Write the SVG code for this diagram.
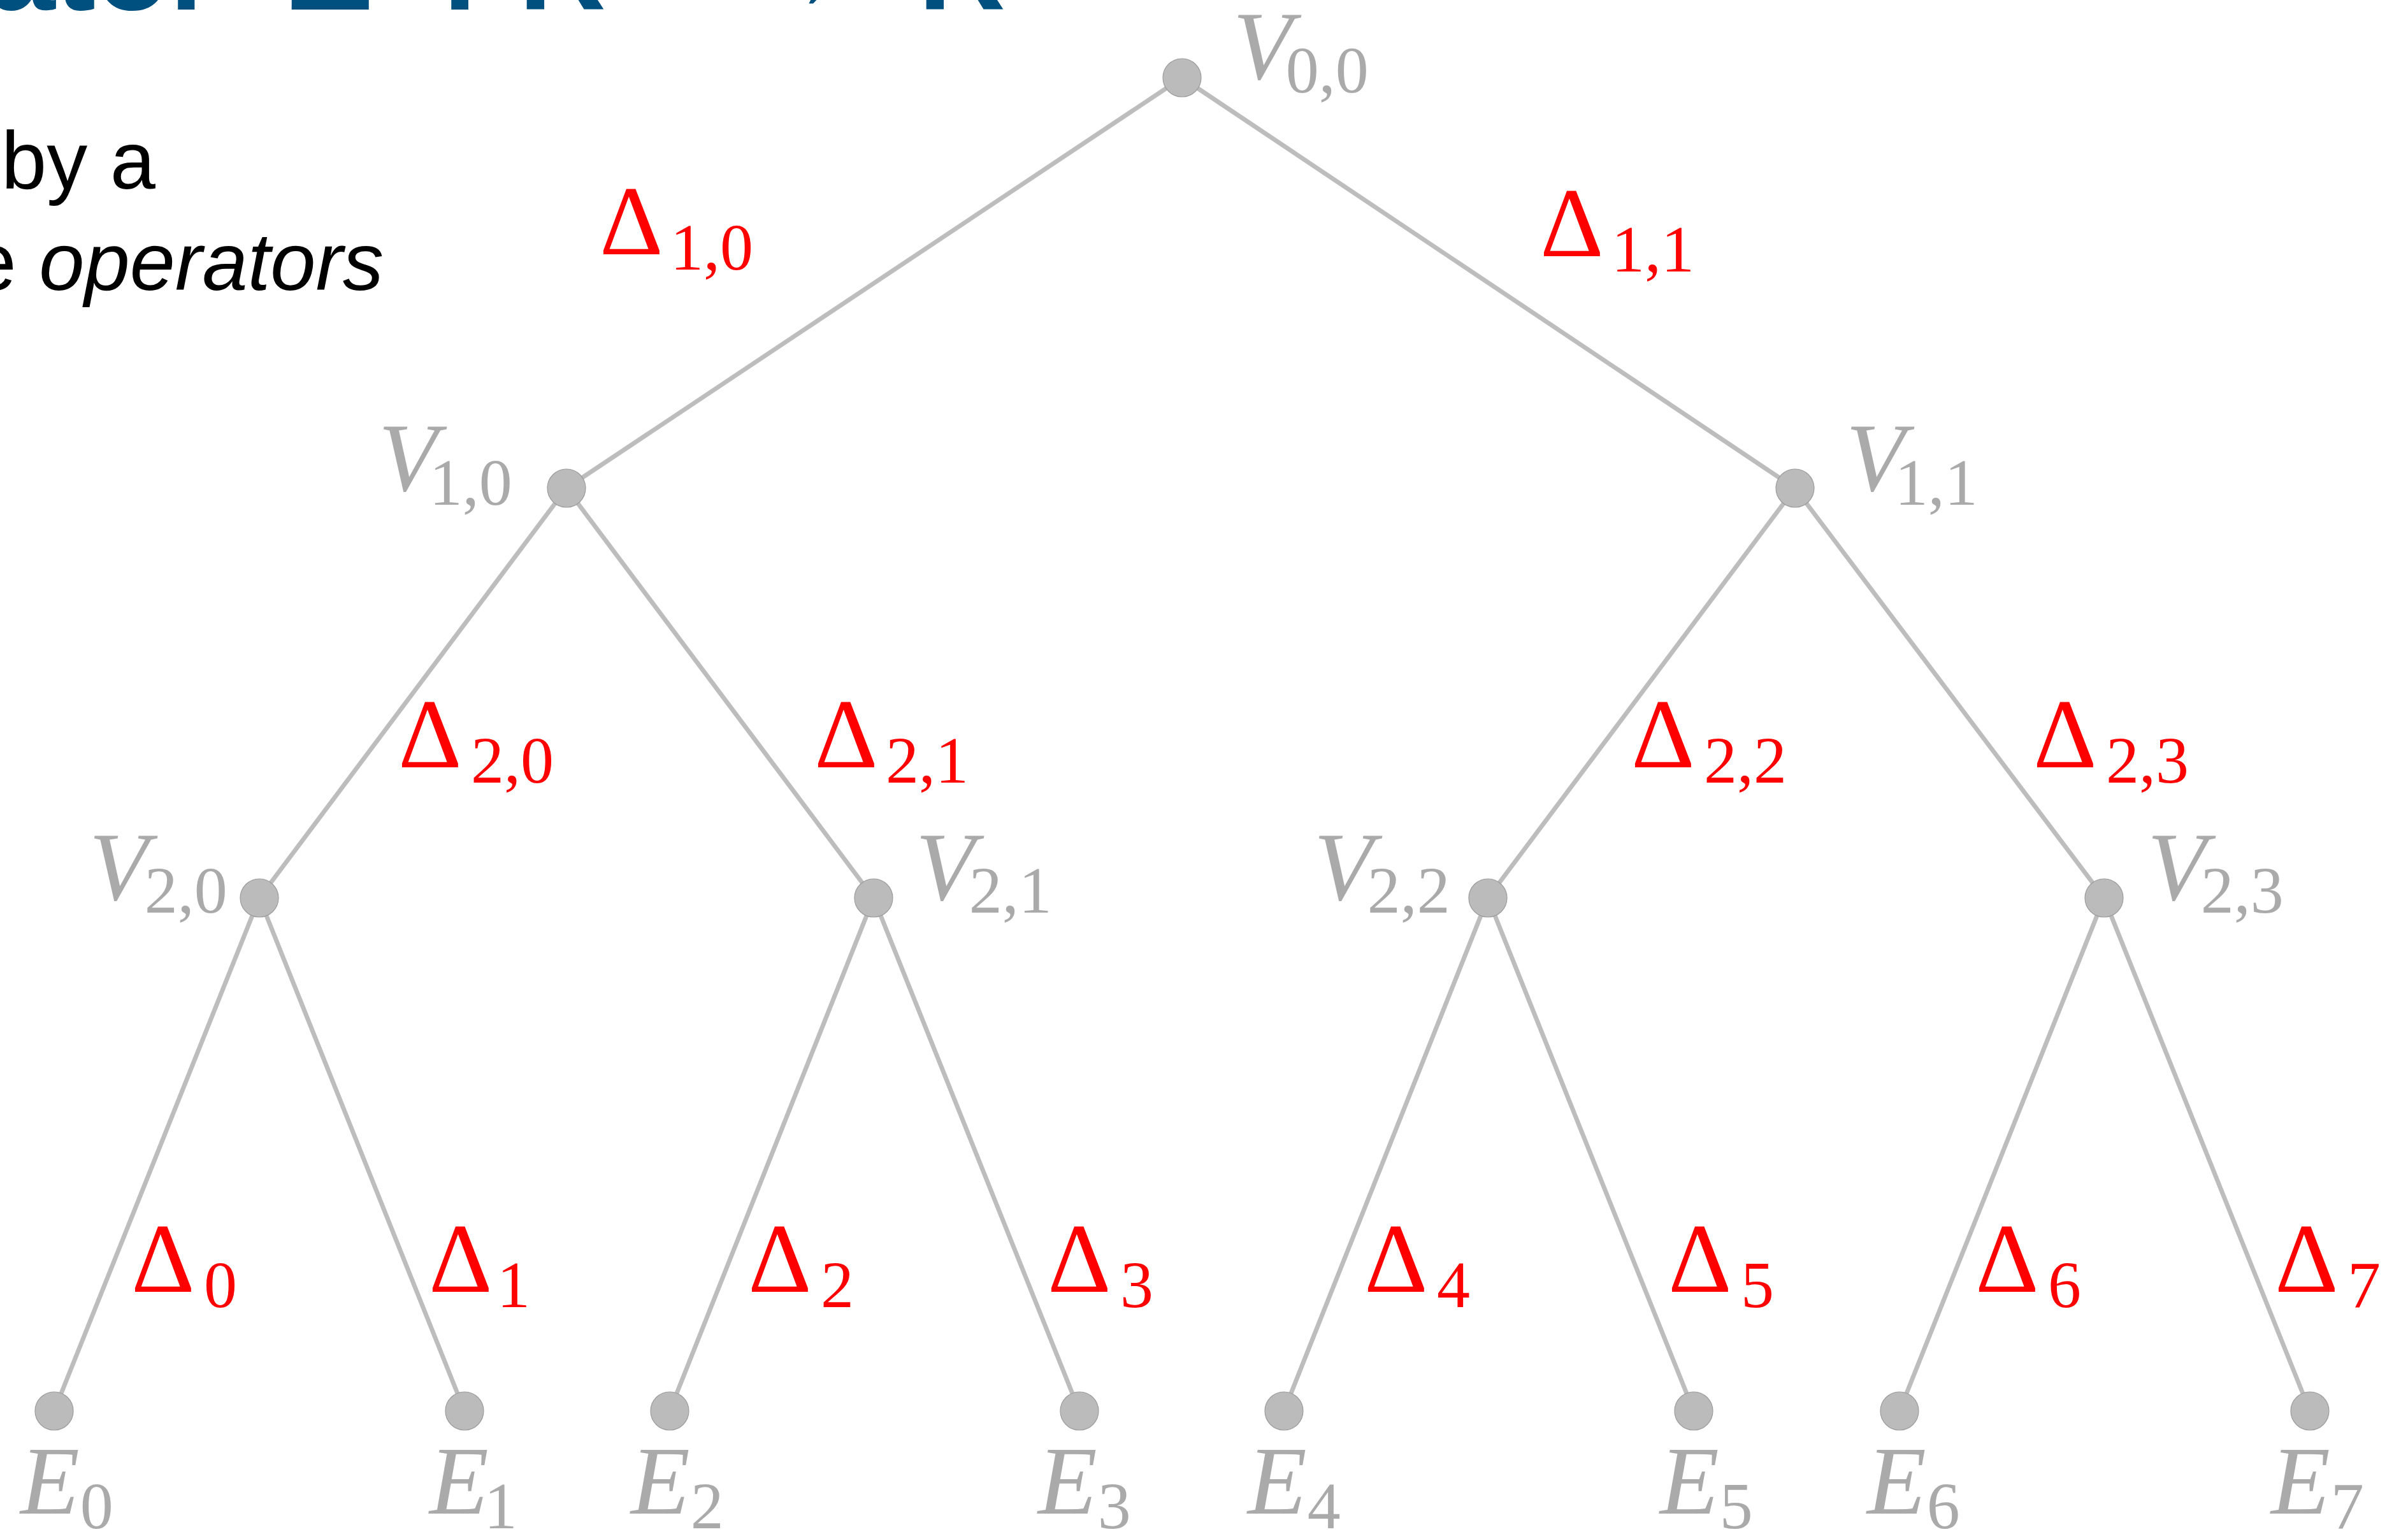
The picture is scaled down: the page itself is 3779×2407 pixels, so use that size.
<svg xmlns="http://www.w3.org/2000/svg" width="3779" height="2407" viewBox="0 0 3779 2407">
<style>
.edge{stroke:#bdbdbd;stroke-width:7;fill:none;stroke-linecap:round}
.node{fill:#bbbbbb;stroke:#9c9c9c;stroke-width:1.2}
.lbl{fill:#aaaaaa;font-family:"Liberation Serif","DejaVu Serif",serif;font-style:italic;font-size:152px}
.sub{font-style:normal;font-size:104px}
.dl{fill:#ff0000;font-family:"Liberation Serif","DejaVu Serif",serif;font-size:155px}
.ds{fill:#ff0000;font-family:"Liberation Serif","DejaVu Serif",serif;font-size:104px}
.title{fill:#00507f;font-family:"Liberation Sans",Arial,sans-serif;font-weight:bold;font-size:190px}
.body{fill:#000000;font-family:"Liberation Sans",Arial,sans-serif;font-size:128px}
</style>
<rect width="3779" height="2407" fill="#ffffff"/>
<g id="title">
<text class="title" x="340" y="15" text-anchor="end">Operator</text>
<text class="title" x="450" y="15">Δ</text>
<text class="title" x="690" y="15">:</text>
<text class="title" x="814" y="15">R</text>
<text class="title" x="1150" y="15">→</text>
<text class="title" x="1441" y="15">R</text>
</g>
<g id="body">
<text class="body" x="244" y="296" text-anchor="end">by a</text>
<text class="body" x="602" y="455" text-anchor="end">e <tspan font-style="italic">operators</tspan></text>
</g>
<g id="connectors">
<line class="edge" x1="1855" y1="122" x2="889" y2="766"/>
<line class="edge" x1="1855" y1="122" x2="2817" y2="766"/>
<line class="edge" x1="889" y1="766" x2="407" y2="1409"/>
<line class="edge" x1="889" y1="766" x2="1371" y2="1409"/>
<line class="edge" x1="2817" y1="766" x2="2335" y2="1409"/>
<line class="edge" x1="2817" y1="766" x2="3302" y2="1409"/>
<line class="edge" x1="407" y1="1409" x2="85" y2="2214"/>
<line class="edge" x1="407" y1="1409" x2="729" y2="2214"/>
<line class="edge" x1="1371" y1="1409" x2="1051" y2="2214"/>
<line class="edge" x1="1371" y1="1409" x2="1694" y2="2214"/>
<line class="edge" x1="2335" y1="1409" x2="2015" y2="2214"/>
<line class="edge" x1="2335" y1="1409" x2="2658" y2="2214"/>
<line class="edge" x1="3302" y1="1409" x2="2981" y2="2214"/>
<line class="edge" x1="3302" y1="1409" x2="3625" y2="2214"/>
</g>
<g id="edge-labels">
<text class="dl" x="941" y="399">Δ</text><text class="ds" x="1052" y="423">1,0</text>
<text class="dl" x="2417" y="402">Δ</text><text class="ds" x="2529" y="426">1,1</text>
<text class="dl" x="625" y="1204">Δ</text><text class="ds" x="739" y="1228">2,0</text>
<text class="dl" x="1278" y="1204">Δ</text><text class="ds" x="1390" y="1228">2,1</text>
<text class="dl" x="2560" y="1204">Δ</text><text class="ds" x="2674" y="1228">2,2</text>
<text class="dl" x="3191" y="1204">Δ</text><text class="ds" x="3305" y="1228">2,3</text>
<text class="dl" x="206" y="2027">Δ</text><text class="ds" x="320" y="2051">0</text>
<text class="dl" x="673" y="2027">Δ</text><text class="ds" x="780" y="2051">1</text>
<text class="dl" x="1174" y="2027">Δ</text><text class="ds" x="1288" y="2051">2</text>
<text class="dl" x="1644" y="2027">Δ</text><text class="ds" x="1758" y="2051">3</text>
<text class="dl" x="2141" y="2027">Δ</text><text class="ds" x="2255" y="2051">4</text>
<text class="dl" x="2618" y="2027">Δ</text><text class="ds" x="2732" y="2051">5</text>
<text class="dl" x="3100" y="2027">Δ</text><text class="ds" x="3214" y="2051">6</text>
<text class="dl" x="3570" y="2027">Δ</text><text class="ds" x="3684" y="2051">7</text>
</g>
<g id="V00"><circle class="node" cx="1855" cy="122" r="30"/><text class="lbl" x="1935" y="124">V<tspan class="sub" dx="-10" dy="21">0,0</tspan></text></g>
<g id="V10"><circle class="node" cx="889" cy="766" r="30"/><text class="lbl" x="594" y="770">V<tspan class="sub" dx="-13" dy="22">1,0</tspan></text></g>
<g id="V11"><circle class="node" cx="2817" cy="766" r="30"/><text class="lbl" x="2897" y="770">V<tspan class="sub" dx="-16" dy="22">1,1</tspan></text></g>
<g id="V20"><circle class="node" cx="407" cy="1409" r="30"/><text class="lbl" x="140" y="1412">V<tspan class="sub" dx="-6" dy="20">2,0</tspan></text></g>
<g id="V21"><circle class="node" cx="1371" cy="1409" r="30"/><text class="lbl" x="1437" y="1412">V<tspan class="sub" dx="-9" dy="20">2,1</tspan></text></g>
<g id="V22"><circle class="node" cx="2335" cy="1409" r="30"/><text class="lbl" x="2062" y="1412">V<tspan class="sub" dx="-9" dy="20">2,2</tspan></text></g>
<g id="V23"><circle class="node" cx="3302" cy="1409" r="30"/><text class="lbl" x="3370" y="1412">V<tspan class="sub" dx="-9" dy="20">2,3</tspan></text></g>
<g id="E0"><circle class="node" cx="85" cy="2214" r="30"/><text class="lbl" x="32" y="2375">E<tspan class="sub" dx="1" dy="23">0</tspan></text></g>
<g id="E1"><circle class="node" cx="729" cy="2214" r="30"/><text class="lbl" x="674" y="2375">E<tspan class="sub" dx="-7" dy="23">1</tspan></text></g>
<g id="E2"><circle class="node" cx="1051" cy="2214" r="30"/><text class="lbl" x="990" y="2375">E<tspan class="sub" dx="1" dy="23">2</tspan></text></g>
<g id="E3"><circle class="node" cx="1694" cy="2214" r="30"/><text class="lbl" x="1629" y="2375">E<tspan class="sub" dx="1" dy="23">3</tspan></text></g>
<g id="E4"><circle class="node" cx="2015" cy="2214" r="30"/><text class="lbl" x="1958" y="2375">E<tspan class="sub" dx="1" dy="23">4</tspan></text></g>
<g id="E5"><circle class="node" cx="2658" cy="2214" r="30"/><text class="lbl" x="2605" y="2375">E<tspan class="sub" dx="1" dy="23">5</tspan></text></g>
<g id="E6"><circle class="node" cx="2981" cy="2214" r="30"/><text class="lbl" x="2930" y="2375">E<tspan class="sub" dx="1" dy="23">6</tspan></text></g>
<g id="E7"><circle class="node" cx="3625" cy="2214" r="30"/><text class="lbl" x="3564" y="2375">E<tspan class="sub" dx="1" dy="23">7</tspan></text></g>
</svg>
